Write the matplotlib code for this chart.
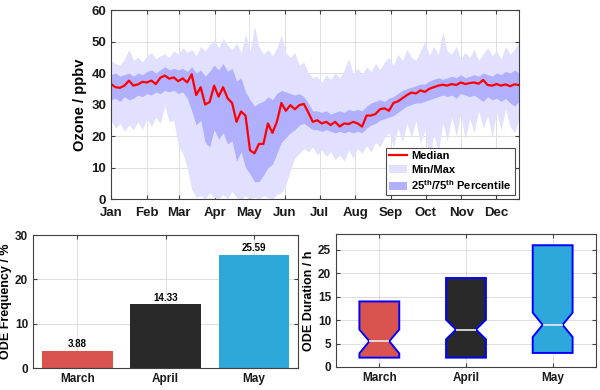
import matplotlib
matplotlib.use("Agg")
import matplotlib.pyplot as plt
import numpy as np

plt.rcParams['font.family'] = ['Liberation Sans', 'DejaVu Sans']
plt.rcParams['font.weight'] = 'bold'
plt.rcParams['mathtext.fontset'] = 'custom'
plt.rcParams['mathtext.rm'] = 'Liberation Sans:bold'
plt.rcParams['mathtext.bf'] = 'Liberation Sans:bold'

# ---- daily ozone statistics, sampled every ~4 days (ppbv) ----
o3_median = [36.5, 35.5, 35.3, 36.0, 37.6, 36.0, 36.4, 37.2, 37.0, 37.6,
             36.5, 38.5, 39.2, 38.2, 38.6, 37.4, 38.3, 37.0, 39.6, 33.0,
             35.5, 30.0, 30.8, 36.0, 32.5, 35.5, 32.0, 30.5, 24.5, 27.8,
             26.5, 15.5, 14.5, 17.5, 17.5, 24.0, 21.0, 24.5, 30.5, 28.0,
             29.8, 28.5, 29.8, 30.2, 27.5, 24.5, 25.0, 24.0, 24.5, 23.5,
             24.5, 23.0, 24.0, 23.8, 24.5, 24.0, 23.0, 26.5, 26.5, 27.0,
             28.5, 28.8, 28.0, 30.5, 31.0, 32.0, 33.0, 33.8, 33.5, 34.5,
             34.0, 35.0, 35.5, 36.0, 36.3, 36.0, 36.5, 36.2, 37.0, 36.5,
             36.8, 37.0, 36.6, 37.8, 36.2, 36.0, 36.5, 36.0, 36.4, 35.8,
             36.4, 36.2]
o3_p25 = [31.5, 32.0, 31.0, 32.5, 31.5, 32.0, 33.0, 32.5, 33.5, 33.0,
          34.0, 33.5, 34.5, 34.0, 34.5, 33.5, 34.0, 32.0, 28.0, 23.5,
          25.0, 18.0, 16.5, 22.0, 19.0, 21.0, 17.5, 18.5, 12.0, 15.0,
          10.0, 8.0, 5.5, 5.5, 7.5, 10.0, 11.0, 14.5, 18.0, 19.5,
          21.0, 22.0, 23.5, 24.0, 23.0, 22.0, 22.0, 21.5, 22.0, 21.5,
          21.0, 21.5, 21.0, 21.5, 21.0, 21.5, 21.0, 22.5, 23.5, 24.0,
          25.0, 25.5, 26.0, 26.5, 27.5, 28.5, 29.5, 30.0, 30.5, 30.5,
          31.0, 31.5, 32.0, 32.5, 33.0, 32.5, 33.0, 32.0, 33.5, 33.0,
          32.5, 33.0, 32.0, 31.0, 32.5, 31.5, 32.0, 31.0, 32.0, 30.5,
          29.5, 31.0]
o3_p75 = [39.5, 40.0, 39.0, 39.5, 40.0, 39.0, 40.0, 39.5, 40.5, 41.0,
          40.0, 41.0, 42.0, 41.0, 41.5, 41.0, 41.5, 40.5, 42.0, 40.0,
          41.0, 39.0, 40.5, 42.5, 41.0, 43.0, 40.5, 41.5, 37.5, 38.5,
          34.0, 31.5, 29.5, 30.5, 31.0, 32.5, 31.5, 33.5, 34.5, 34.0,
          33.5, 33.0, 33.5, 32.5, 30.5, 28.0, 28.0, 27.5, 28.0, 27.0,
          27.5, 28.0, 27.5, 28.5, 28.0, 28.5, 28.0, 29.5, 30.5, 31.0,
          31.5, 31.0, 32.0, 32.5, 33.5, 34.5, 35.0, 35.5, 36.0, 36.5,
          36.5, 37.5, 38.0, 38.5, 38.0, 38.5, 39.0, 38.5, 39.5, 38.5,
          39.0, 39.5, 39.0, 40.0, 39.5, 39.0, 40.0, 39.5, 40.5, 40.0,
          41.0, 40.0]
o3_min = [25.0, 22.5, 24.0, 21.5, 23.5, 22.0, 24.5, 22.0, 25.5, 23.0,
          26.0, 24.0, 29.5, 24.5, 25.0, 17.0, 14.5, 10.0, 3.0, 0.5,
          1.0, 0.0, 2.0, 0.5, 0.0, 1.5, 0.0, 2.5, 0.5, 0.0,
          1.0, 0.0, 0.5, 0.0, 1.0, 0.5, 0.0, 1.5, 2.0, 4.5,
          9.0, 13.0, 14.5, 16.0, 15.0, 16.5, 14.0, 15.5, 13.5, 15.0,
          12.5, 14.0, 12.0, 15.5, 13.0, 16.0, 14.5, 17.0, 15.0, 18.0,
          16.5, 19.5, 21.0, 16.5, 22.5, 18.0, 24.0, 19.5, 25.0, 17.5,
          22.0, 12.5, 20.5, 15.0, 24.0, 18.5, 26.0, 20.0, 27.0, 19.0,
          25.5, 21.0, 28.0, 22.5, 26.5, 19.5, 27.5, 22.0, 28.5, 23.0,
          21.0, 25.5]
o3_max = [44.0, 43.0, 42.5, 44.5, 47.5, 44.0, 45.0, 43.5, 45.5, 46.5,
          44.5, 45.5, 46.0, 45.0, 47.0, 46.0, 48.0, 46.5, 47.5, 45.5,
          48.5, 47.0, 49.0, 50.5, 48.0, 51.0, 49.0, 47.5, 49.5, 46.5,
          52.5, 47.0, 55.0, 48.5, 46.0, 47.5, 45.5, 48.0, 52.0, 46.5,
          45.0, 46.5, 42.5, 43.5, 40.0, 38.5, 39.0, 37.0, 39.5, 38.0,
          40.0, 38.5, 41.0, 44.5, 40.0, 41.5, 39.5, 42.0, 40.5, 43.0,
          41.0, 43.5, 45.0, 42.5, 46.0, 44.0, 47.5, 45.0, 44.0, 47.0,
          50.0, 45.5, 48.5, 46.0, 53.0, 47.0, 46.0, 48.5, 44.5, 46.5,
          45.0, 47.5, 44.0, 46.0, 48.0, 45.5, 47.0, 44.5, 48.5, 46.0,
          47.5, 50.0]
day = np.linspace(1, 355, len(o3_median))  # day of year of each sample

month_start = [1, 32, 60, 91, 121, 152, 182, 213, 244, 274, 305, 335]
month_names = ['Jan', 'Feb', 'Mar', 'Apr', 'May', 'Jun',
               'Jul', 'Aug', 'Sep', 'Oct', 'Nov', 'Dec']

# ---- ODE statistics per month ----
ode_months = ['March', 'April', 'May']
ode_freq = [3.88, 14.33, 25.59]
ode_colors = ['#D9534F', '#292929', '#2EA7DA']
dur_q1 = [2, 2, 3]
dur_med = [5.5, 8, 9]
dur_q3 = [14, 19, 26]
dur_ci_lo = [2.9, 5.9, 6.4]
dur_ci_hi = [8.0, 10.1, 11.6]

grid_kw = dict(color='0.85', linewidth=0.6)
spine_col = '0.25'


def style_axes(ax, size=8.5):
    for s in ax.spines.values():
        s.set_color(spine_col)
        s.set_linewidth(0.8)
    ax.tick_params(direction='in', top=True, right=True, labelsize=size,
                   colors=spine_col, labelcolor='0.1', length=3)
    ax.grid(True, **grid_kw)
    ax.set_axisbelow(True)


fig = plt.figure(figsize=(6.0, 3.9), dpi=100)

# ---- top: annual ozone cycle ----
ax1 = fig.add_axes([0.185, 0.4897, 0.68, 0.4846])
ax1.fill_between(day, o3_min, o3_max, color='#E1E1FF', lw=0, label='Min/Max')
ax1.fill_between(day, o3_p25, o3_p75, color='#B0B0FF', lw=0,
                 label=r'25$^{\mathrm{th}}$/75$^{\mathrm{th}}$ Percentile')
ax1.plot(day, o3_median, color='red', lw=1.6, label='Median')
ax1.set_xlim(1, 355)
ax1.set_ylim(0, 60)
ax1.set_xticks(month_start)
ax1.set_xticklabels(month_names)
ax1.set_yticks(range(0, 61, 10))
ax1.set_ylabel('Ozone / ppbv', fontsize=10.5, fontweight='bold', labelpad=3)
style_axes(ax1, size=9.5)
ax1.tick_params(axis='x', pad=6)
h, l = ax1.get_legend_handles_labels()
leg = ax1.legend([h[2], h[0], h[1]], [l[2], l[0], l[1]], loc='lower right',
                 fontsize=8, fancybox=False, framealpha=1,
                 edgecolor='0.3', borderaxespad=0.35, handlelength=1.6,
                 handletextpad=0.4, labelspacing=0.3, borderpad=0.3)
leg.get_frame().set_linewidth(0.8)

# ---- bottom left: ODE frequency ----
ax2 = fig.add_axes([0.055, 0.0564, 0.4417, 0.341])
xpos = np.arange(1, len(ode_months) + 1)
bars = ax2.bar(xpos, ode_freq, width=0.8, color=ode_colors)
for rect, v in zip(bars, ode_freq):
    ax2.annotate('{:.2f}'.format(v),
                 xy=(rect.get_x() + rect.get_width() / 2, v),
                 xytext=(0, 1), textcoords='offset points',
                 ha='center', va='bottom', fontsize=7, fontweight='bold')
ax2.set_xlim(0.5, 3.5)
ax2.set_ylim(0, 30)
ax2.set_xticks(xpos)
ax2.set_xticklabels(ode_months)
ax2.set_yticks([0, 10, 20, 30])
ax2.set_ylabel('ODE Frequency / %', fontsize=9, fontweight='bold', labelpad=2)
style_axes(ax2)

# ---- bottom right: ODE duration (notched boxes) ----
ax3 = fig.add_axes([0.56, 0.059, 0.4333, 0.341])
stats = []
for i in range(len(ode_months)):
    stats.append(dict(med=dur_med[i], q1=dur_q1[i], q3=dur_q3[i],
                      whislo=dur_q1[i], whishi=dur_q3[i],
                      cilo=dur_ci_lo[i], cihi=dur_ci_hi[i], fliers=[]))
bp = ax3.bxp(stats, positions=xpos, widths=0.46, shownotches=True,
             showcaps=False, patch_artist=True,
             boxprops=dict(edgecolor='blue', linewidth=1.4),
             medianprops=dict(color='0.92', linewidth=1.2),
             whiskerprops=dict(linewidth=0))
for patch, c in zip(bp['boxes'], ode_colors):
    patch.set_facecolor(c)
ax3.set_xlim(0.5, 3.5)
ax3.set_ylim(0, 28.4)
ax3.set_xticks(xpos)
ax3.set_xticklabels(ode_months)
ax3.set_yticks([0, 5, 10, 15, 20, 25])
ax3.set_ylabel('ODE Duration / h', fontsize=9, fontweight='bold', labelpad=2)
style_axes(ax3)

fig.savefig('out.png', dpi=100)
